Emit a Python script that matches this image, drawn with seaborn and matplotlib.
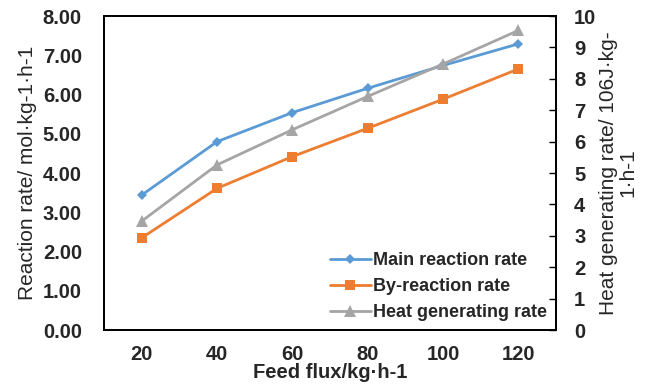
import matplotlib
matplotlib.use("Agg")
import matplotlib.pyplot as plt
import seaborn as sns
import pandas as pd
from matplotlib.lines import Line2D

categories = ["20", "40", "60", "80", "100", "120"]
main_rate = [3.44, 4.80, 5.54, 6.16, 6.74, 7.29]
by_rate = [2.35, 3.61, 4.42, 5.14, 5.88, 6.65]
heat_rate = [3.47, 5.26, 6.38, 7.44, 8.47, 9.54]

sns.set_theme(style="white")
plt.rcParams['font.family'] = ['Liberation Sans', 'DejaVu Sans']

df = pd.DataFrame({
    "idx": range(len(categories)),
    "cat": categories,
    "main": main_rate,
    "by": by_rate,
    "heat": heat_rate,
})

c_main = "#5B9BD5"
c_by = "#ED7D31"
c_heat = "#A5A5A5"

fig = plt.figure(figsize=(6.51, 3.86), dpi=100)
ax = fig.add_axes([0.16, 0.145, 0.694, 0.8135])
ax2 = ax.twinx()

sns.lineplot(data=df, x="idx", y="main", ax=ax, color=c_main, marker="D",
             markersize=5, markeredgewidth=0, linewidth=2)
sns.lineplot(data=df, x="idx", y="by", ax=ax, color=c_by, marker="s",
             markersize=7, markeredgewidth=0, linewidth=2)
sns.lineplot(data=df, x="idx", y="heat", ax=ax2, color=c_heat, marker="^",
             markersize=8, markeredgewidth=0, linewidth=2)

ax.set_xlim(-0.5, len(categories) - 0.5)
ax.set_ylim(0, 8)
ax2.set_ylim(0, 10)
ax.set_yticks([i for i in range(9)])
ax.set_yticklabels([f"{i:.2f}" for i in range(9)])
ax2.set_yticks(range(11))
ax.set_xticks(range(len(categories)))
ax.set_xticklabels(categories)
ax.set_xticks([i + 0.5 for i in range(len(categories) - 1)], minor=True)

for a in (ax, ax2):
    for s in a.spines.values():
        s.set_color("black")
        s.set_linewidth(1.3)

ax.tick_params(axis="x", which="major", length=0, pad=11, labelsize=14.5)
ax.tick_params(axis="x", which="minor", length=5, direction="in", width=1, color="black")
ax.tick_params(axis="y", length=0, pad=16, labelsize=14.5)
ax2.tick_params(axis="y", length=5, direction="in", width=1, color="black", pad=13, labelsize=14.5)
for lab in ax.get_xticklabels() + ax.get_yticklabels() + ax2.get_yticklabels():
    lab.set_fontweight("bold")

ax.set_xlabel("Feed flux/kg·h-1", fontsize=14.5, fontweight="bold", labelpad=-1)
ax.set_ylabel("Reaction rate/ mol·kg-1·h-1", fontsize=15, labelpad=4)
ax2.set_ylabel("Heat generating rate/ 106J·kg-\n1·h-1", fontsize=15, labelpad=2,
               linespacing=1.0)
ax.grid(False)
ax2.grid(False)

handles = [
    Line2D([], [], color=c_main, marker="D", markersize=5, markeredgewidth=0, linewidth=2),
    Line2D([], [], color=c_by, marker="s", markersize=7, markeredgewidth=0, linewidth=2),
    Line2D([], [], color=c_heat, marker="^", markersize=8, markeredgewidth=0, linewidth=2),
]
labels = ["Main reaction rate", "By-reaction rate", "Heat generating rate"]
leg = ax2.legend(handles, labels, loc="lower right", frameon=False,
                 prop={"weight": "bold", "size": 13}, handlelength=2.3,
                 handletextpad=0.1, labelspacing=0.5, borderaxespad=0.1)

fig.savefig("out.png", dpi=100)
